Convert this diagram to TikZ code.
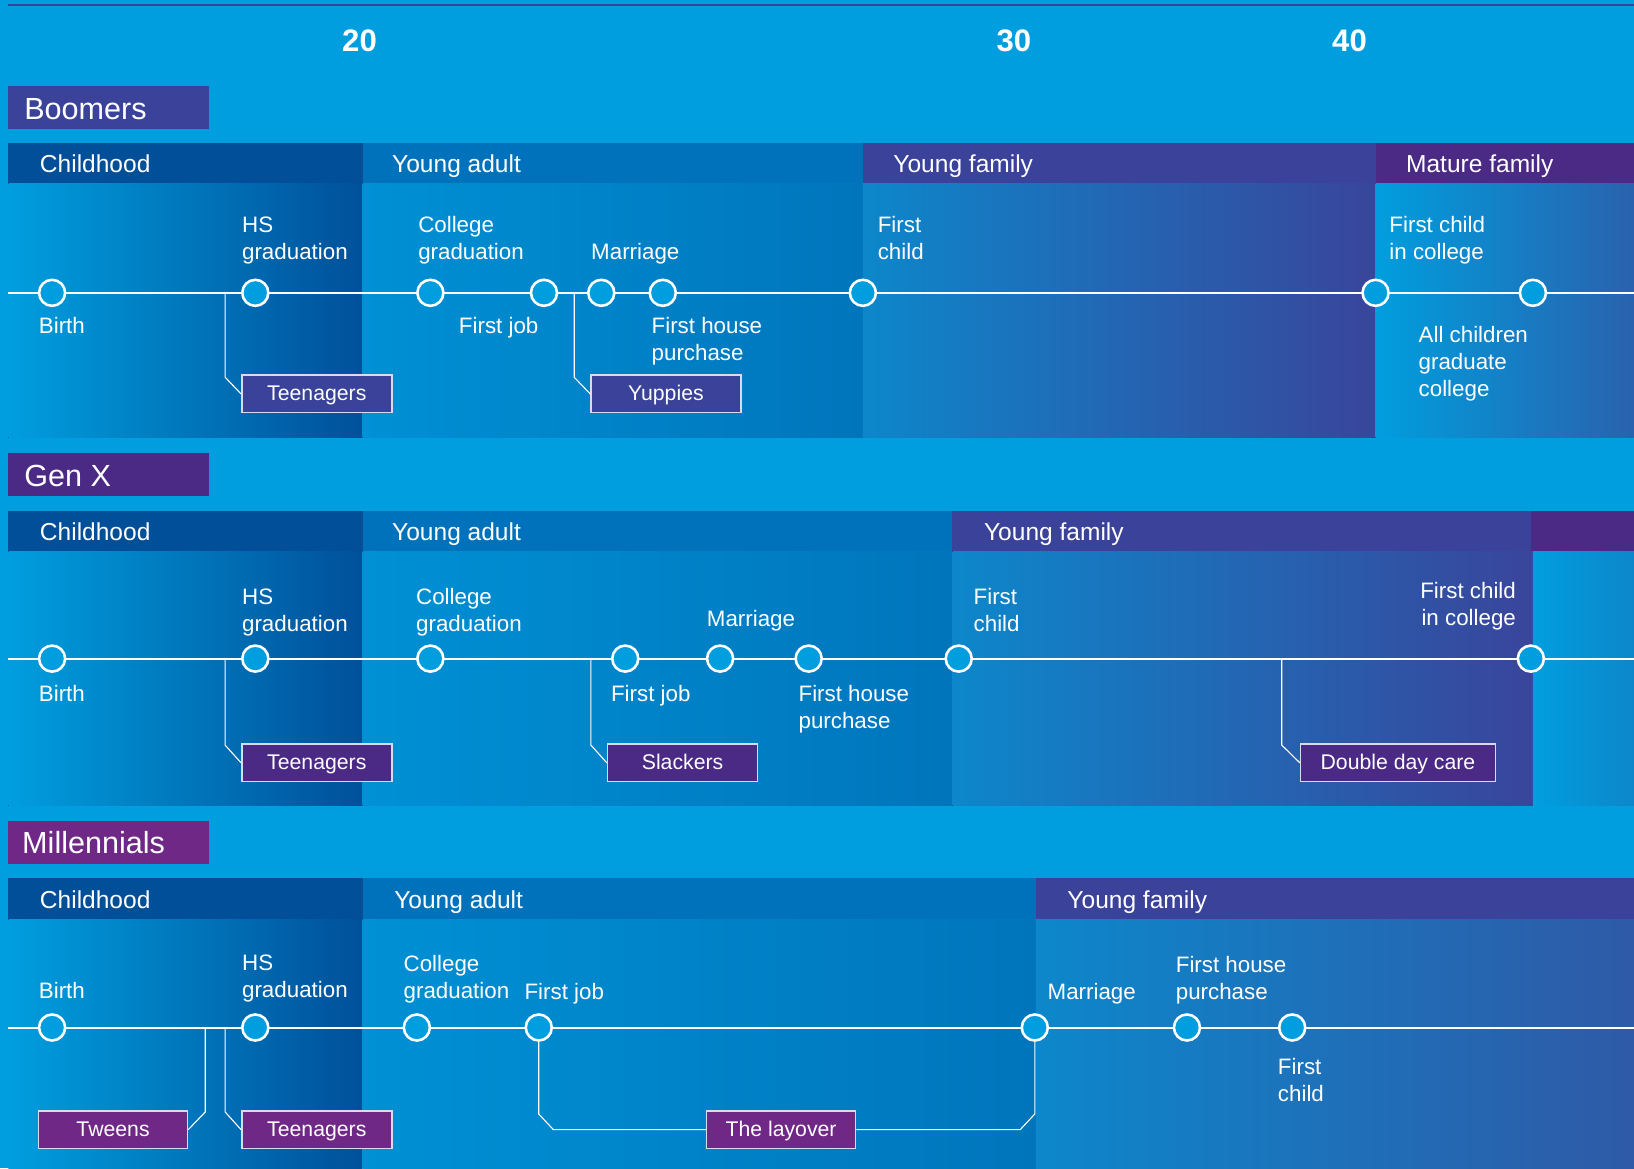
\documentclass[tikz,border=0pt]{standalone}
\usepackage{fontspec}
\setmainfont{Liberation Sans}
\usetikzlibrary{positioning}
\definecolor{sky}{HTML}{009EDE}
\definecolor{navy}{HTML}{004F98}
\definecolor{navyfade}{HTML}{00509A}
\definecolor{ocean}{HTML}{0072BB}
\definecolor{oceanlight}{HTML}{0090D4}
\definecolor{oceanfade}{HTML}{0075BC}
\definecolor{famlight}{HTML}{0D87CB}
\definecolor{indigo}{HTML}{3A429A}
\definecolor{indigofade}{HTML}{39459B}
\definecolor{violet}{HTML}{4B2A85}
\definecolor{maturefade}{HTML}{2E5BA8}
\definecolor{plum}{HTML}{702886}
\definecolor{edge}{HTML}{D8DAEE}
\tikzset{
  age/.style={text=white, font=\fontsize{17}{20}\selectfont\bfseries, anchor=base, inner sep=0pt},
  gen/.style={text=white, font=\fontsize{16.7}{20}\selectfont, anchor=base west, inner sep=0pt},
  phase/.style={text=white, font=\fontsize{13.4}{16}\selectfont, anchor=base west, inner sep=0pt},
  event/.style={text=white, font=\fontsize{12.2}{14.7}\selectfont, align=left, inner sep=0pt, anchor=north west},
  dot/.style={circle, draw=white, line width=1.4pt, fill=sky, minimum size=0.5cm, inner sep=0pt},
  tag/.style={draw=edge, line width=0.8pt, text=white, font=\fontsize{11.6}{14}\selectfont,
    minimum height=0.72cm, inner sep=0pt, text height=0.72em, text depth=0pt},
  axis/.style={draw=white, line width=1.1pt},
  link/.style={draw=white, line width=0.6pt}
}

\begin{document}
\begin{tikzpicture}[x=0.02cm, y=-0.02cm,
    childbody/.style={left color=sky, right color=navyfade},
    adultbody/.style={left color=oceanlight, right color=oceanfade},
    familybody/.style={left color=famlight, right color=indigofade},
    maturebody/.style={left color=sky, right color=maturefade}
  ]
  \useasboundingbox (0,0) rectangle (1568,1121);
  \fill[sky] (0,0) rectangle (1568,1121);
  \draw[indigo, line width=1.1pt] (8,5) -- (1568,5);

  \node[age] (a20) at (345,49) {20};
  \node[age] (a30) at (973,49) {30};
  \node[age] (a40) at (1295,49) {40};

  % Boomers
  \fill[indigo] (8,83) rectangle (201,124);
  \node[gen] (boomers) at (23,114.5) {Boomers};
  \fill[navy] (8,137) rectangle (348,176);
  \fill[ocean] (348,137) rectangle (828,176);
  \fill[indigo] (828,137) rectangle (1320,176);
  \fill[violet] (1320,137) rectangle (1568,176);
  \fill[childbody] (8,176) rectangle (348,420);
  \fill[adultbody] (348,176) rectangle (828,420);
  \fill[familybody] (828,176) rectangle (1320,420);
  \fill[maturebody, right color=maturefade!90!sky] (1320,176) rectangle (1568,420);
  \node[phase] (bchild) at (38,165.5) {Childhood};
  \node[phase] (badult) at (376,165.5) {Young adult};
  \node[phase] (bfamily) at (857,165.5) {Young family};
  \node[phase] (bmature) at (1349,165.5) {Mature family};

  \coordinate (bstart) at (8,281);
  \coordinate (bend) at (1568,281);
  \draw[axis] (bstart) -- (bend);
  \node[tag, fill=indigo, minimum width=2.88cm] (bteen) at (304,378) {Teenagers};
  \node[tag, fill=indigo, minimum width=2.88cm] (byup) at (639,378) {Yuppies};
  \coordinate (bteentop) at (216,281);
  \coordinate (byuptop) at (551,281);
  \draw[link] (bteentop) -- (216,362) -- (bteen.west);
  \draw[link] (byuptop) -- (551,362) -- (byup.west);
  \node[dot] (bbirthd) at (50,281) {};
  \node[dot] (bhsd) at (245,281) {};
  \node[dot] (bcold) at (413,281) {};
  \node[dot] (bjobd) at (522,281) {};
  \node[dot] (bmard) at (577,281) {};
  \node[dot] (bhoused) at (636,281) {};
  \node[dot] (bkidd) at (828,281) {};
  \node[dot] (bcollegd) at (1320,281) {};
  \node[dot] (balld) at (1471,281) {};
  \node[event] (bbirth) at (37,304.5) {Birth};
  \node[event] (bhs) at (232,207.5) {HS\\graduation};
  \node[event] (bcol) at (401,207.5) {College\\graduation};
  \node[event, anchor=north east] (bjob) at (517,304.5) {First job};
  \node[event] (bmar) at (567,233.5) {Marriage};
  \node[event] (bhouse) at (625,304.5) {First house\\purchase};
  \node[event] (bkid) at (842,207.5) {First\\child};
  \node[event] (bcolleg) at (1333,207.5) {First child\\in college};
  \node[event] (ball) at (1361,312.5) {All children\\graduate\\college};

  % Gen X
  \fill[violet] (8,435) rectangle (201,476);
  \node[gen] (genx) at (23,466.5) {Gen X};
  \fill[navy] (8,490) rectangle (348,529);
  \fill[ocean] (348,490) rectangle (914,529);
  \fill[indigo] (914,490) rectangle (1469,529);
  \fill[violet] (1469,490) rectangle (1568,529);
  \fill[childbody] (8,529) rectangle (348,773);
  \fill[adultbody] (348,529) rectangle (914,773);
  \fill[familybody] (914,529) rectangle (1471,773);
  \fill[left color=sky, right color=famlight] (1471,529) rectangle (1568,773);
  \node[phase] (xchild) at (38,518.5) {Childhood};
  \node[phase] (xadult) at (376,518.5) {Young adult};
  \node[phase] (xfamily) at (944,518.5) {Young family};

  \coordinate (xstart) at (8,632);
  \coordinate (xend) at (1568,632);
  \draw[axis] (xstart) -- (xend);
  \node[tag, fill=violet, minimum width=2.88cm] (xteen) at (304,732) {Teenagers};
  \node[tag, fill=violet, minimum width=2.88cm] (xslack) at (655,732) {Slackers};
  \node[tag, fill=violet, minimum width=3.74cm] (xcare) at (1341.5,732) {Double day care};
  \coordinate (xteentop) at (216,632);
  \coordinate (xslacktop) at (567,632);
  \coordinate (xcaretop) at (1230,632);
  \draw[link] (xteentop) -- (216,715) -- (xteen.west);
  \draw[link] (xslacktop) -- (567,715) -- (xslack.west);
  \draw[link] (xcaretop) -- (1230,715) -- (xcare.west);
  \node[dot] (xbirthd) at (50,632) {};
  \node[dot] (xhsd) at (245,632) {};
  \node[dot] (xcold) at (413,632) {};
  \node[dot] (xjobd) at (600,632) {};
  \node[dot] (xmard) at (691,632) {};
  \node[dot] (xhoused) at (776,632) {};
  \node[dot] (xkidd) at (920,632) {};
  \node[dot] (xcollegd) at (1469,632) {};
  \node[event] (xbirth) at (37,657.5) {Birth};
  \node[event] (xhs) at (232,564.5) {HS\\graduation};
  \node[event] (xcol) at (399,564.5) {College\\graduation};
  \node[event] (xjob) at (586,657.5) {First job};
  \node[event] (xmar) at (678,585) {Marriage};
  \node[event] (xhouse) at (766,657.5) {First house\\purchase};
  \node[event] (xkid) at (934,564.5) {First\\child};
  \node[event, anchor=north east, align=right] (xcolleg) at (1455,558.5) {First child\\in college};

  % Millennials
  \fill[plum] (8,788) rectangle (201,829);
  \node[gen] (millen) at (21,819.5) {Millennials};
  \fill[navy] (8,843) rectangle (348,882);
  \fill[ocean] (348,843) rectangle (994,882);
  \fill[indigo] (994,843) rectangle (1568,882);
  \fill[childbody] (8,882) rectangle (348,1121);
  \fill[adultbody] (348,882) rectangle (994,1121);
  \fill[left color=famlight, right color=maturefade!95!indigo] (994,882) rectangle (1568,1121);
  \node[phase] (mchild) at (38,871.5) {Childhood};
  \node[phase] (madult) at (378,871.5) {Young adult};
  \node[phase] (mfamily) at (1024,871.5) {Young family};

  \coordinate (mstart) at (8,986);
  \coordinate (mend) at (1568,986);
  \draw[axis] (mstart) -- (mend);
  \node[tag, fill=plum, minimum width=2.86cm] (mtween) at (108.5,1084) {Tweens};
  \node[tag, fill=plum, minimum width=2.88cm] (mteen) at (304,1084) {Teenagers};
  \node[tag, fill=plum, minimum width=2.86cm] (mlay) at (749.5,1084) {The layover};
  \coordinate (mtweentop) at (197,986);
  \coordinate (mteentop) at (216,986);
  \draw[link] (mtweentop) -- (197,1067) -- (mtween.east);
  \draw[link] (mteentop) -- (216,1067) -- (mteen.west);
  \node[dot] (mbirthd) at (50,986) {};
  \node[dot] (mhsd) at (245,986) {};
  \node[dot] (mcold) at (400,986) {};
  \node[dot] (mjobd) at (517,986) {};
  \node[dot] (mmard) at (993,986) {};
  \node[dot] (mhoused) at (1139,986) {};
  \node[dot] (mkidd) at (1240,986) {};
  \draw[link] (mjobd.south) -- (517,1069) -- (531,1084) -- (mlay.west);
  \draw[link] (mlay.east) -- (979,1084) -- (993,1069) -- (mmard.south);
  \node[event] (mbirth) at (37,942.5) {Birth};
  \node[event] (mhs) at (232,916) {HS\\graduation};
  \node[event] (mcol) at (387,916) {College\\graduation};
  \node[event] (mjob) at (503,943.5) {First job};
  \node[event] (mmar) at (1005,943.5) {Marriage};
  \node[event] (mhouse) at (1128,917) {First house\\purchase};
  \node[event] (mkid) at (1226,1015.5) {First\\child};
\end{tikzpicture}
\end{document}
